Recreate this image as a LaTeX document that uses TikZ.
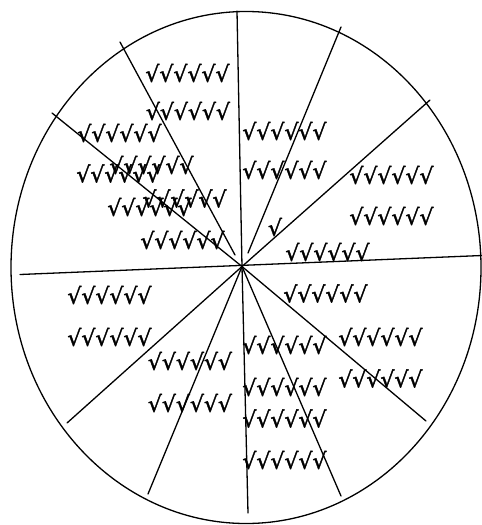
\documentclass[tikz,border=0pt]{standalone}
\usepackage{fontspec}
\newfontfamily\tickfont{DejaVu Sans}[FakeBold=1.6]
\tikzset{
  spoke/.style={line width=1.3pt, line cap=round},
  rim/.style={line width=1.3pt},
  ticks/.style={font=\tickfont\fontsize{22}{24}\selectfont, inner sep=0pt, anchor=center, yshift=-1pt}
}
\begin{document}
\begin{tikzpicture}[x=1pt,y=-1pt]
\useasboundingbox (0,0) rectangle (482,525);
\draw[rim] (246,267.5) ellipse [x radius=235, y radius=256];
\coordinate (c) at (242,266.5);
\coordinate (n) at (237,11);
\coordinate (nea) at (248,253);
\coordinate (neb) at (341,27);
\coordinate (ne) at (430,100);
\coordinate (w) at (20,274.5);
\coordinate (e) at (482,255.5);
\coordinate (nwa) at (235,255);
\coordinate (nwb) at (120,42);
\coordinate (nw) at (52,113);
\coordinate (sw) at (67,423);
\coordinate (ssw) at (148,494);
\coordinate (s) at (248,513);
\coordinate (sse) at (341,496);
\coordinate (se) at (426,421);
\draw[spoke] (c) -- (n);
\draw[spoke] (nea) -- (neb);
\draw[spoke] (c) -- (ne);
\draw[spoke] (w) -- (e);
\draw[spoke] (nwa) -- (nwb);
\draw[spoke] (c) -- (nw);
\draw[spoke] (c) -- (sw);
\draw[spoke] (c) -- (ssw);
\draw[spoke] (c) -- (s);
\draw[spoke] (c) -- (sse);
\draw[spoke] (c) -- (se);
\node[ticks] (t1) at (187.5,72) {√√√√√√};
\node[ticks] (t2) at (188,110) {√√√√√√};
\node[ticks] (t3) at (119.5,132) {√√√√√√};
\node[ticks] (t4) at (151.5,164) {√√√√√√};
\node[ticks] (t5) at (118.5,172.5) {√√√√√√};
\node[ticks] (t6) at (184.5,197.5) {√√√√√√};
\node[ticks] (t7) at (149.5,206) {√√√√√√};
\node[ticks] (t8) at (182.5,239) {√√√√√√};
\node[ticks] (t9) at (284.5,130) {√√√√√√};
\node[ticks] (t10) at (284.5,169) {√√√√√√};
\node[ticks] (t11) at (391.5,174) {√√√√√√};
\node[ticks] (t12) at (391.5,215) {√√√√√√};
\node[ticks] (t13) at (275,226) {√};
\node[ticks] (t14) at (327.5,251) {√√√√√√};
\node[ticks] (t15) at (109.5,294) {√√√√√√};
\node[ticks] (t16) at (109.5,336) {√√√√√√};
\node[ticks] (t17) at (190,360) {√√√√√√};
\node[ticks] (t18) at (190,402) {√√√√√√};
\node[ticks] (t19) at (325.5,292.5) {√√√√√√};
\node[ticks] (t20) at (380.5,336) {√√√√√√};
\node[ticks] (t21) at (380.5,377.5) {√√√√√√};
\node[ticks] (t22) at (284.5,344) {√√√√√√};
\node[ticks] (t23) at (284.5,386) {√√√√√√};
\node[ticks] (t24) at (284.5,417.5) {√√√√√√};
\node[ticks] (t25) at (284.5,459) {√√√√√√};
\end{tikzpicture}
\end{document}
